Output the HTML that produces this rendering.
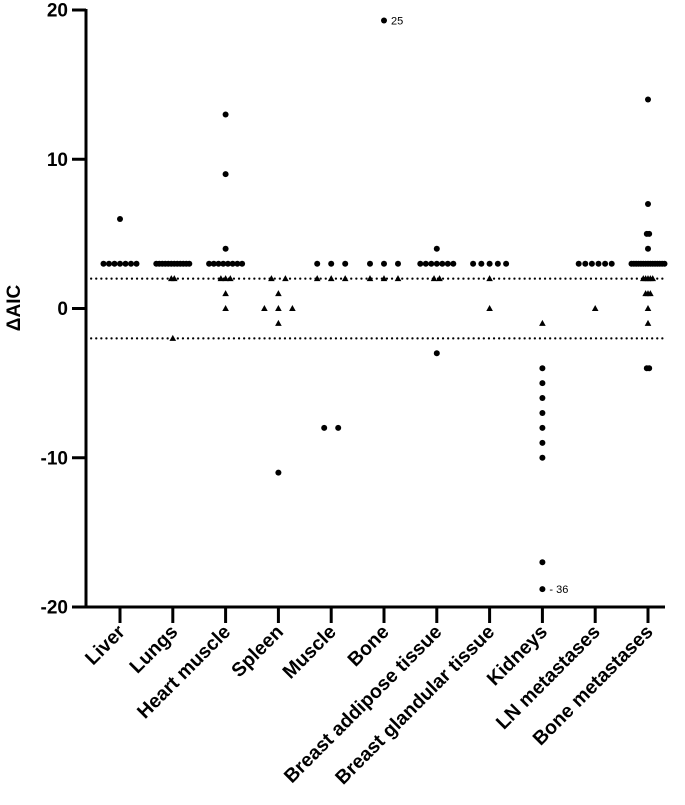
<!DOCTYPE html>
<html><head><meta charset="utf-8"><style>
html,body{margin:0;padding:0;background:#fff;}
svg{display:block;font-family:"Liberation Sans",Arial,sans-serif;}
</style></head><body>
<svg id="chart" width="685" height="805" viewBox="0 0 685 805"></svg>
<script>
const categories=["Liver","Lungs","Heart muscle","Spleen","Muscle","Bone","Breast addipose tissue","Breast glandular tissue","Kidneys","LN metastases","Bone metastases"];
const pointCat=[0,0,0,0,0,0,0,0,
 1,1,1,1,1,1,1,1,1,1,1,1,1,1,1,
 2,2,2,2,2,2,2,2,2,2,2,2,2,2,2,2,
 3,3,3,3,3,3,3,3,
 4,4,4,4,4,4,4,4,
 5,5,5,5,5,5,5,
 6,6,6,6,6,6,6,6,6,6,6,
 7,7,7,7,7,7,7,
 8,8,8,8,8,8,8,8,8,8,
 9,9,9,9,9,9,9,
 10,10,10,10,10,10,10,10,10,10,10,10,10,10,10,10,10,10,10,10,10,10,10,10,10,10,10,10,10,10,10,10];
const pointVal=[3,3,3,3,3,3,3,6,
 3,3,3,3,3,3,3,3,3,3,3,3,2,2,-2,
 3,3,3,3,3,3,3,3,4,9,13,2,2,2,1,0,
 2,2,1,0,0,0,-1,-11,
 3,3,3,2,2,2,-8,-8,
 3,3,3,2,2,2,25,
 3,3,3,3,3,3,3,4,2,2,-3,
 3,3,3,3,3,2,0,
 -1,-4,-5,-6,-7,-8,-9,-10,-17,-36,
 3,3,3,3,3,3,0,
 3,3,3,3,3,3,3,3,3,3,3,3,3,3,3,4,5,5,7,14,2,2,2,2,2,1,1,1,0,-1,-4,-4];
const pointShape=[0,0,0,0,0,0,0,0,
 0,0,0,0,0,0,0,0,0,0,0,0,1,1,1,
 0,0,0,0,0,0,0,0,0,0,0,1,1,1,1,1,
 1,1,1,1,1,1,1,0,
 0,0,0,1,1,1,0,0,
 0,0,0,1,1,1,0,
 0,0,0,0,0,0,0,0,1,1,0,
 0,0,0,0,0,1,1,
 1,0,0,0,0,0,0,0,0,0,
 0,0,0,0,0,0,1,
 0,0,0,0,0,0,0,0,0,0,0,0,0,0,0,0,0,0,0,0,1,1,1,1,1,1,1,1,1,1,0,0];
const yTicks=[20,10,0,-10,-20];
const refLines=[2,-2];
const yMin=-20,yMax=20;

const NS="http://www.w3.org/2000/svg";
const svg=document.getElementById('chart');
const X0=86,X1=665,Ytop=10,Ybot=607;
function yScale(v){return Ybot-(v-yMin)/(yMax-yMin)*(Ybot-Ytop);}
function xScale(i){return 120+i*52.8;}
function mk(tag,attrs,parent){const e=document.createElementNS(NS,tag);for(const k in attrs)e.setAttribute(k,attrs[k]);(parent||svg).appendChild(e);return e;}

refLines.forEach(v=>{
 const l=mk('line',{x1:X0,x2:X1,y1:yScale(v),y2:yScale(v),stroke:'#000','stroke-width':2.2,'stroke-dasharray':'0.1 5','stroke-linecap':'round'});
 
 
});
const ya=mk('line',{x1:X0,x2:X0,y1:Ytop-1,y2:Ybot+1.5,stroke:'#000','stroke-width':3});


const xa=mk('line',{x1:X0-1.5,x2:X1,y1:Ybot,y2:Ybot,stroke:'#000','stroke-width':3});


yTicks.forEach(t=>{
 const y=yScale(t);
 const tk=mk('line',{x1:X0-14,x2:X0,y1:y,y2:y,stroke:'#000','stroke-width':3});
 
 
 const tx=mk('text',{x:X0-18,y:y+6.5,'text-anchor':'end','font-size':19,'font-weight':'bold'});
 tx.textContent=t;
 
 
});
const yl=mk('text',{x:0,y:0,transform:'translate(20,308) rotate(-90)','text-anchor':'middle','font-size':19,'font-weight':'bold'});
yl.textContent='ΔAIC';


categories.forEach((c,i)=>{
 const x=xScale(i);
 const tk=mk('line',{x1:x,x2:x,y1:Ybot,y2:Ybot+16,stroke:'#000','stroke-width':3});
 
 
 const tx=mk('text',{x:0,y:0,transform:`translate(${x+6},${Ybot+26}) rotate(-45)`,'text-anchor':'end','font-size':19.5,'font-weight':'bold'});
 tx.textContent=c;
 
 
});
const groups={};const maxN={};
pointCat.forEach((c,k)=>{const key=c+'|'+pointVal[k]+'|'+pointShape[k];(groups[key]=groups[key]||[]).push(k);});
Object.values(groups).forEach(list=>{const c=pointCat[list[0]];maxN[c]=Math.max(maxN[c]||1,list.length);});
Object.values(groups).forEach(list=>{
 const n=list.length;
 const c0=pointCat[list[0]];
 const sp=maxN[c0]>1?Math.min(14,33/(maxN[c0]-1)):0;
 list.forEach((k,j)=>{
  const c=pointCat[k];let v=pointVal[k];
  const clipped=v>yMax-0.7||v<yMin+1.2;
  const vp=v>yMax-0.7?19.3:(v<yMin+1.2?-18.8:v);
  const x=xScale(c)+(j-(n-1)/2)*sp,y=yScale(vp);
  let m;
  if(pointShape[k]===0){m=mk('circle',{cx:x,cy:y,r:3,fill:'#000'});}
  else{m=mk('polygon',{points:`${x},${y-3.5} ${x+3.3},${y+2.5} ${x-3.3},${y+2.5}`,fill:'#000'});}
  
  
  if(clipped){
   const t=mk('text',{x:x+7,y:y+4,'font-size':11});
   t.textContent=v>0?String(v):'- '+Math.abs(v);
   
   
  }
 });
});
</script>
</body></html>
